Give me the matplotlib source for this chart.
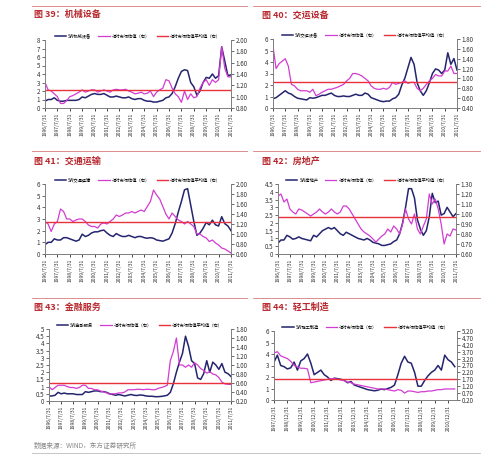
import numpy as np
import matplotlib.pyplot as plt
from matplotlib.lines import Line2D
from matplotlib.ticker import FormatStrFormatter

plt.rcParams['font.family'] = ['Noto Sans CJK SC', 'DejaVu Sans']

navy = '#25256F'
magenta = '#D23CD2'
red = '#E8323C'
title_red = '#B8282E'
W, H = 500, 458

# ---- data (quarterly readings, left = SW index PE, right = relative valuation) ----
jixie_sw = [0.8, 1.0,
            1.0, 1.2, 0.9, 0.8, 0.8, 0.9, 0.9, 0.9, 0.9, 1.0, 1.3, 1.2,
            1.4, 1.6, 1.7, 1.6, 1.6, 1.7, 1.5, 1.3, 1.3, 1.4, 1.3, 1.2,
            1.2, 1.3, 1.1, 1.0, 1.1, 1.1, 0.9, 0.8, 0.8, 0.7, 0.7, 0.8,
            0.9, 1.2, 1.3, 1.7, 2.5, 3.5, 4.3, 4.5, 4.4, 3.0, 2.5, 1.5,
            2.0, 3.0, 3.6, 3.5, 4.0, 3.5, 3.8, 7.2, 5.5, 3.8, 3.9]
jixie_rel = [1.25, 1.12,
             1.10, 1.05, 1.00, 0.88, 0.88, 0.93, 1.00, 1.02, 1.05, 1.08, 1.12, 1.08,
             1.10, 1.12, 1.12, 1.08, 1.10, 1.12, 1.10, 1.08, 1.12, 1.13, 1.12, 1.12,
             1.13, 1.10, 1.08, 1.05, 1.06, 1.08, 1.05, 1.06, 1.10, 1.00, 1.08, 1.12,
             1.15, 1.30, 1.28, 1.15, 1.05, 1.00, 0.90, 1.10, 0.95, 1.05, 0.98, 1.00,
             1.15, 1.25, 1.30, 1.20, 1.30, 1.25, 1.30, 1.88, 1.50, 1.35, 1.35]

jiaoyun_sw = [0.8, 0.9,
              1.1, 1.3, 1.5, 1.3, 1.2, 1.0, 0.85, 0.8, 0.75, 0.7, 0.9, 0.85,
              0.9, 1.0, 1.1, 1.1, 1.2, 1.3, 1.1, 1.0, 1.0, 1.05, 1.0, 1.0,
              1.1, 1.2, 1.1, 1.1, 1.3, 1.2, 0.9, 0.8, 0.7, 0.6, 0.55, 0.6,
              0.6, 0.8, 0.9, 1.2, 2.0, 2.6, 3.5, 4.4, 3.8, 2.2, 1.5, 1.1,
              1.5, 2.2, 3.0, 3.4, 3.3, 3.0, 3.3, 4.8, 3.8, 4.3, 3.3]
jiaoyun_rel = [1.65, 1.20,
               1.30, 1.35, 1.40, 1.25, 0.88, 0.85, 0.78, 0.75, 0.75, 0.75, 0.72, 0.78,
               0.65, 0.68, 0.72, 0.75, 0.78, 0.78, 0.80, 0.82, 0.85, 0.88, 0.95, 1.00,
               1.10, 1.10, 1.08, 1.05, 1.00, 0.95, 0.85, 0.80, 0.78, 0.78, 0.80, 0.78,
               0.82, 0.92, 0.88, 0.90, 0.92, 0.95, 0.90, 0.92, 0.92, 0.80, 0.75, 0.80,
               0.88, 0.95, 1.00, 1.08, 1.05, 1.05, 1.15, 1.15, 1.25, 1.10, 1.10]

jiaotong_sw = [0.8, 1.0,
               1.0, 1.3, 1.2, 1.2, 1.4, 1.4, 1.3, 1.2, 1.1, 1.2, 1.7, 1.5,
               1.6, 1.8, 1.9, 1.9, 2.0, 2.05, 1.8, 1.6, 1.5, 1.75, 1.6, 1.5,
               1.5, 1.6, 1.5, 1.4, 1.5, 1.5, 1.4, 1.35, 1.4, 1.35, 1.2, 1.15,
               1.1, 1.2, 1.3, 1.8, 2.6, 3.6, 4.5, 5.5, 5.6, 4.2, 2.8, 1.6,
               1.8, 2.2, 2.7, 2.5, 2.9, 2.5, 2.4, 3.2, 2.6, 2.4, 2.0]
jiaotong_rel = [1.25, 1.20,
                1.05, 1.20, 1.25, 1.50, 1.45, 1.30, 1.30, 1.25, 1.28, 1.30, 1.30, 1.25,
                1.18, 1.15, 1.15, 1.12, 1.20, 1.22, 1.20, 1.25, 1.30, 1.38, 1.35, 1.38,
                1.42, 1.42, 1.45, 1.42, 1.45, 1.48, 1.45, 1.55, 1.65, 1.88, 1.78, 1.70,
                1.55, 1.40, 1.30, 1.42, 1.35, 1.28, 1.25, 1.20, 1.25, 1.20, 1.15, 1.00,
                1.00, 0.95, 0.92, 0.85, 0.88, 0.82, 0.78, 0.72, 0.70, 0.66, 0.62]

fangdichan_sw = [0.7, 0.9,
                 0.9, 1.2, 1.1, 0.95, 1.0, 1.1, 1.0, 0.95, 0.9, 0.85, 1.2, 1.1,
                 1.3, 1.5, 1.6, 1.7, 1.6, 1.7, 1.5, 1.3, 1.2, 1.4, 1.3, 1.2,
                 1.1, 1.0, 0.95, 0.9, 1.0, 0.9, 0.75, 0.7, 0.65, 0.55, 0.55, 0.6,
                 0.65, 0.8, 0.9, 1.3, 2.0, 3.0, 4.2, 4.2, 3.6, 2.2, 1.6, 1.2,
                 1.5, 2.4, 3.9, 3.3, 3.4, 2.5, 2.6, 3.0, 2.7, 2.4, 2.6]
fangdichan_rel = [1.18, 1.20,
                  1.12, 1.15, 1.05, 1.02, 1.00, 1.05, 1.04, 1.02, 1.00, 0.98, 1.00, 1.02,
                  1.05, 1.02, 1.00, 1.02, 1.05, 1.02, 1.00, 1.02, 1.08, 1.08, 1.05, 1.00,
                  0.95, 0.90, 0.85, 0.82, 0.80, 0.78, 0.75, 0.72, 0.75, 0.78, 0.80, 0.85,
                  0.82, 0.88, 0.85, 0.80, 0.90, 1.05, 0.95, 0.90, 1.00, 0.85, 0.80, 0.88,
                  0.95, 1.20, 1.10, 1.15, 1.05, 0.90, 0.70, 0.80, 0.78, 0.85, 0.84]

jinrong_sw = [0.35, 0.35,
              0.40, 0.60, 0.50, 0.55, 0.50, 0.50, 0.50, 0.45, 0.45, 0.45, 0.65, 0.60,
              0.65, 0.70, 0.70, 0.65, 0.65, 0.60, 0.50, 0.45, 0.40, 0.45, 0.40, 0.35,
              0.40, 0.45, 0.40, 0.38, 0.42, 0.40, 0.35, 0.33, 0.33, 0.30, 0.30, 0.32,
              0.35, 0.40, 0.60, 1.20, 2.00, 2.70, 3.30, 4.50, 3.80, 2.80, 2.60, 1.60,
              1.50, 1.90, 2.80, 2.00, 2.70, 2.50, 2.20, 2.60, 2.00, 1.90, 1.70]
jinrong_rel = [0.52, 0.45,
               0.50, 0.55, 0.55, 0.55, 0.52, 0.50, 0.50, 0.48, 0.50, 0.55, 0.55, 0.48,
               0.48, 0.45, 0.45, 0.42, 0.40, 0.38, 0.35, 0.36, 0.36, 0.38, 0.38, 0.40,
               0.45, 0.45, 0.45, 0.46, 0.46, 0.45, 0.46, 0.46, 0.45, 0.45, 0.48, 0.50,
               0.52, 0.55, 1.10, 1.30, 1.60, 1.00, 1.00, 0.95, 1.00, 0.95, 1.05, 1.00,
               0.92, 0.88, 0.82, 0.85, 0.80, 0.78, 0.72, 0.62, 0.58, 0.57, 0.57]

qinggong_sw = [3.3,
               3.9, 3.0, 2.9, 2.7, 2.8, 3.3, 2.6, 3.4, 3.6, 4.0, 3.2, 2.2,
               2.4, 2.6, 2.2, 2.0, 1.7, 1.9, 1.85, 1.8, 1.7, 1.5, 1.6, 1.3,
               1.2, 1.1, 1.0, 0.9, 0.85, 0.8, 0.85, 0.95, 0.9, 1.0, 1.1, 1.3,
               2.2, 3.2, 3.8, 3.3, 3.2, 2.4, 1.2, 1.2, 1.7, 2.1, 2.4, 2.6,
               3.0, 2.6, 3.9, 3.5, 3.3, 2.9]
qinggong_rel = [3.6,
                3.7, 3.4, 3.3, 3.2, 3.0, 2.7, 2.6, 2.5, 2.5, 2.45, 1.45, 1.5,
                1.55, 1.6, 1.65, 1.7, 1.75, 1.75, 1.7, 1.65, 1.6, 1.5, 1.45, 1.35,
                1.3, 1.25, 1.2, 1.15, 1.1, 1.05, 1.0, 1.0, 1.0, 0.95, 0.9, 0.85,
                0.95, 0.9, 0.7, 0.85, 0.85, 0.8, 0.75, 0.8, 0.8, 0.85, 0.85, 0.9,
                0.95, 0.95, 1.0, 1.0, 1.0, 1.0]

titles = ['图 39：机械设备', '图 40：交运设备', '图 41：交通运输',
          '图 42：房地产', '图 43：金融服务', '图 44：轻工制造']
sw_names = ['SW机械设备', 'SW交运设备', 'SW交通运输', 'SW房地产', 'SW金融服务', 'SW轻工制造']
avg_values = [1.115, 0.925, 1.24, 0.966, 0.60, 1.74]
dates_jul = ['%d/7/31' % y for y in range(1996, 2012)]
dates_dec = ['%d/12/31' % y for y in range(1997, 2011)]


def px(x):
    return x / W


def py(y):
    return 1 - y / H


def draw_panel(box, title_x, title_y, title, name, sw, rel, avg,
               left_lim, left_step, right_lim, right_step, dates, xmax, left_fmt):
    x0, y0, x1, y1 = box
    ax = fig.add_axes([px(x0), py(y1), px(x1) - px(x0), py(y0) - py(y1)])
    ax2 = ax.twinx()
    months = np.arange(len(sw)) * 3
    l1, = ax.plot(months, sw, color=navy, linewidth=1.1)
    l2, = ax2.plot(months, rel, color=magenta, linewidth=0.9)
    l3 = ax2.axhline(avg, color=red, linewidth=1.0)

    ax.set_xlim(0, xmax)
    ax.set_ylim(*left_lim)
    ax2.set_ylim(*right_lim)
    ax.set_yticks(np.arange(left_lim[0], left_lim[1] + 1e-6, left_step))
    ax2.set_yticks(np.arange(right_lim[0], right_lim[1] + 1e-6, right_step))
    ax.yaxis.set_major_formatter(FormatStrFormatter(left_fmt))
    ax2.yaxis.set_major_formatter(FormatStrFormatter('%.2f'))
    ax.set_xticks(np.arange(len(dates)) * 12)
    ax.set_xticklabels(dates, rotation=90, fontsize=3.6, color='#333333')
    for a in (ax, ax2):
        a.tick_params(axis='y', labelsize=4.5, length=2, width=0.5, pad=1.5, colors='#333333')
        a.spines['top'].set_visible(False)
        for s in ('left', 'right', 'bottom'):
            a.spines[s].set_color('#7f7f7f')
            a.spines[s].set_linewidth(0.6)
    ax.tick_params(axis='x', length=2, width=0.5, pad=1.5)

    ax.legend([l1, l2, l3], [name, '相对市场估值（右）', '相对市场估值平均值（右）'],
              loc='lower center', bbox_to_anchor=(0.5, 0.99), ncol=3, frameon=False,
              fontsize=3.1, handlelength=2.6, handletextpad=0.5, columnspacing=1.6,
              borderaxespad=0.1)

    fig.text(px(title_x), py(title_y), title, fontsize=6.5, fontweight='bold',
             color=title_red, va='center', ha='left')


fig = plt.figure(figsize=(5, 4.58), dpi=100)

for row_y in (6, 151, 298):
    fig.add_artist(Line2D([px(32), px(247)], [py(row_y), py(row_y)], color='#D87A7A', linewidth=0.6))
    fig.add_artist(Line2D([px(253), px(480)], [py(row_y), py(row_y)], color='#D87A7A', linewidth=0.6))

draw_panel((45, 40, 231, 108), 34, 15, titles[0], sw_names[0], jixie_sw, jixie_rel, avg_values[0],
           (0, 8), 1, (0.8, 2.0), 0.2, dates_jul, 180, '%g')
draw_panel((273, 39, 457, 108), 262, 15, titles[1], sw_names[1], jiaoyun_sw, jiaoyun_rel, avg_values[1],
           (0, 6), 1, (0.4, 1.8), 0.2, dates_jul, 180, '%g')
draw_panel((45, 184, 231, 254), 34, 161, titles[2], sw_names[2], jiaotong_sw, jiaotong_rel, avg_values[2],
           (0, 6), 1, (0.6, 2.0), 0.2, dates_jul, 180, '%g')
draw_panel((278, 184, 456, 254), 262, 161, titles[3], sw_names[3], fangdichan_sw, fangdichan_rel, avg_values[3],
           (0, 4.5), 0.5, (0.6, 1.3), 0.1, dates_jul, 180, '%g')
draw_panel((49, 329, 231, 401), 34, 307, titles[4], sw_names[4], jinrong_sw, jinrong_rel, avg_values[4],
           (0, 5), 0.5, (0.2, 1.8), 0.2, dates_jul, 180, '%g')
draw_panel((274, 331, 457, 400), 262, 307, titles[5], sw_names[5], qinggong_sw, qinggong_rel, avg_values[5],
           (0, 6), 1, (0.2, 5.2), 0.5, dates_dec, 164, '%g')

fig.text(px(34), py(446), '数据来源：WIND，东方证券研究所', fontsize=4.8, color='#888888', va='center')
fig.add_artist(Line2D([px(32), px(480)], [py(453), py(453)], color='#BBBBBB', linewidth=0.6))

fig.savefig('out.png', dpi=100)
